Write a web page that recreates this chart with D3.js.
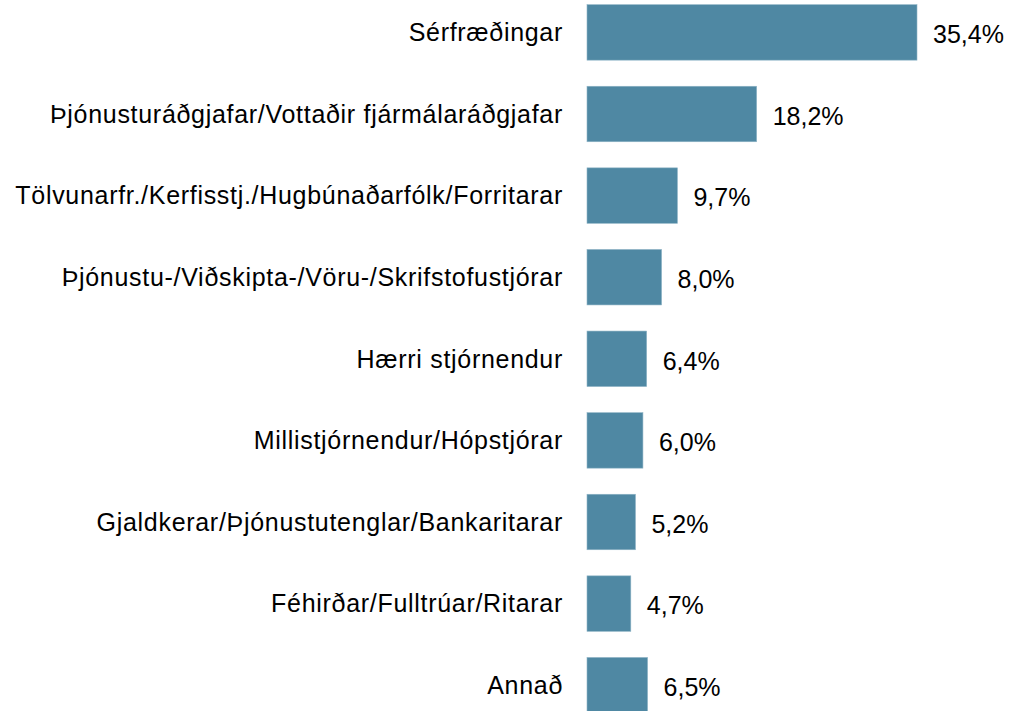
<!DOCTYPE html>
<html>
<head>
<meta charset="utf-8">
<script src="https://cdn.jsdelivr.net/npm/d3@7"></script>
<style>
  body { margin: 0; background: #fff; }
  text { font-family: "Liberation Sans", Arial, sans-serif; fill: #000; }
</style>
</head>
<body>
<svg id="chart"></svg>
<script>
// data
var categories = [
  "Sérfræðingar",
  "Þjónusturáðgjafar/Vottaðir fjármálaráðgjafar",
  "Tölvunarfr./Kerfisstj./Hugbúnaðarfólk/Forritarar",
  "Þjónustu-/Viðskipta-/Vöru-/Skrifstofustjórar",
  "Hærri stjórnendur",
  "Millistjórnendur/Hópstjórar",
  "Gjaldkerar/Þjónustutenglar/Bankaritarar",
  "Féhirðar/Fulltrúar/Ritarar",
  "Annað"
];
var values = [35.4, 18.2, 9.7, 8.0, 6.4, 6.0, 5.2, 4.7, 6.5];

var width = 1010, height = 711;

var svg = d3.select("#chart")
  .attr("width", width)
  .attr("height", height);

var x = d3.scaleLinear()
  .domain([0, 35.4])
  .range([587, 917]);

var y = d3.scaleBand()
  .domain(categories)
  .range([-8.4, 726])
  .paddingInner(0.32)
  .paddingOuter(0.16);

var fmt = function(v) { return d3.format(".1f")(v).replace(".", ",") + "%"; };

var rows = svg.selectAll(".row")
  .data(categories.map(function(c, i) { return {cat: c, val: values[i]}; }))
  .enter().append("g")
    .attr("class", "row");

rows.append("rect")
  .attr("x", x(0))
  .attr("y", function(d) { return y(d.cat); })
  .attr("width", function(d) { return x(d.val) - x(0); })
  .attr("height", y.bandwidth())
  .attr("fill", "#4f88a3")
  .attr("stroke", "#8fb4c6")
  .attr("stroke-width", 0.6);

rows.append("text")
  .attr("x", 563)
  .attr("y", function(d) { return y(d.cat) + y.bandwidth() / 2; })
  .attr("dy", "0.35em")
  .attr("text-anchor", "end")
  .style("font-size", "25px")
  .style("letter-spacing", "0.7px")
  .text(function(d) { return d.cat; });

rows.append("text")
  .attr("x", function(d) { return x(d.val) + 16; })
  .attr("y", function(d) { return y(d.cat) + y.bandwidth() / 2 + 2; })
  .attr("dy", "0.35em")
  .style("font-size", "25px")
  .text(function(d) { return fmt(d.val); });
</script>
</body>
</html>
